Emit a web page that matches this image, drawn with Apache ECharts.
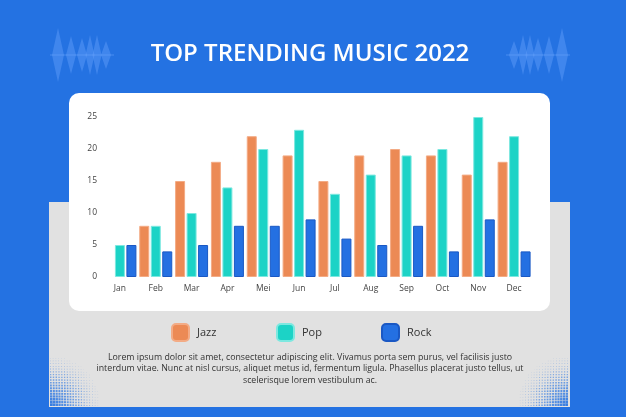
<!DOCTYPE html>
<html>
<head>
<meta charset="utf-8">
<title>Top Trending Music 2022</title>
<script src="https://cdn.jsdelivr.net/npm/echarts@6/dist/echarts.min.js"></script>
<style>
  body { margin: 0; background: #2472e2; }
  #main { width: 626px; height: 417px; }
</style>
</head>
<body>
<div id="main"></div>
<script>
// data
var months = ['Jan', 'Feb', 'Mar', 'Apr', 'Mei', 'Jun', 'Jul', 'Aug', 'Sep', 'Oct', 'Nov', 'Dec'];
var jazz = [0, 8, 15, 18, 22, 19, 15, 19, 20, 19, 16, 18];
var pop = [5, 8, 10, 14, 20, 23, 13, 16, 19, 20, 25, 22];
var rock = [5, 4, 5, 8, 8, 9, 6, 5, 8, 4, 9, 4];
var yTicks = [0, 5, 10, 15, 20, 25];

var blue = '#2472e2';
var font = 'Open Sans';
var lorem = [
  'Lorem ipsum dolor sit amet, consectetur adipiscing elit. Vivamus porta sem purus, vel facilisis justo',
  'interdum vitae. Nunc at nisl cursus, aliquet metus id, fermentum ligula. Phasellus placerat justo tellus, ut',
  'scelerisque lorem vestibulum ac.'
];

var myChart = echarts.init(document.getElementById('main'));

// decoration: waveform diamonds
function wave(mirror) {
  var peaks = [[58, 27, 6], [71, 19, 5], [82, 17, 5], [90, 20, 4.5], [97, 20, 4.5], [106, 14, 5]];
  var cy = 55, out = [];
  peaks.forEach(function (p) {
    var cx = mirror ? 620 - p[0] : p[0];
    out.push({
      type: 'polygon', z: -1, silent: true,
      shape: { points: [[cx - p[2], cy], [cx, cy - p[1]], [cx + p[2], cy], [cx, cy + p[1]]] },
      style: { fill: 'rgba(100,160,250,0.45)' }
    });
  });
  var x0 = mirror ? 620 - 114 : 50;
  out.push({ type: 'rect', z: -1, silent: true, shape: { x: x0, y: cy - 0.5, width: 64, height: 1 },
    style: { fill: 'rgba(110,170,255,0.5)' } });
  return out;
}

// decoration: halftone dots in bottom corners of the gray panel
function dots(right) {
  var out = [];
  for (var i = 0; i < 18; i++) {
    for (var j = 0; j < 18; j++) {
      var dx = i * 2.8, dy = j * 2.8;
      var d = Math.sqrt(Math.pow(dx / 50, 2) + Math.pow(dy / 50, 2));
      if (d >= 1) continue;
      var s = 2.3 * (1 - d) + 0.4;
      var x = right ? 568 - dx - s : 50 + dx;
      out.push({ type: 'rect', z: -1, silent: true,
        shape: { x: x, y: 406 - dy - s, width: s, height: s },
        style: { fill: 'rgba(36,114,226,' + (0.3 + 0.6 * (1 - d)) + ')' } });
    }
  }
  return out;
}

var graphics = [
  { type: 'rect', z: -3, silent: true, shape: { x: 49, y: 202, width: 521, height: 205 },
    style: { fill: '#e1e1e1' } },
  { type: 'rect', z: -2, silent: true, shape: { x: 69, y: 93, width: 481, height: 218, r: 10 },
    style: { fill: '#ffffff' } },
  { type: 'text', z: 3, x: 310, y: 54, style: {
      text: 'TOP TRENDING MUSIC 2022', fill: '#ffffff', font: '600 24px "' + font + '"',
      textAlign: 'center', textVerticalAlign: 'middle' } }
];
lorem.forEach(function (line, i) {
  graphics.push({ type: 'text', z: 3, x: 310, y: 357 + i * 11.6, style: {
    text: line, fill: '#333333', font: '8.8px "' + font + '"',
    textAlign: 'center', textVerticalAlign: 'middle' } });
});
graphics = graphics.concat(wave(false), wave(true), dots(false), dots(true));

function legendAt(name, left) {
  return {
    data: [name], left: left, top: 323, itemWidth: 17, itemHeight: 17,
    icon: 'path://M4,0 H13 A4,4 0 0 1 17,4 V13 A4,4 0 0 1 13,17 H4 A4,4 0 0 1 0,13 V4 A4,4 0 0 1 4,0 Z',
    itemGap: 0, padding: 0,
    textStyle: { color: '#333', fontSize: 11, fontFamily: font, padding: [0, 0, 0, 3] }
  };
}

function barSeries(name, data, color, edge) {
  return {
    name: name, type: 'bar', barWidth: 10, barGap: '15%',
    // a zero bar draws nothing in the picture, so drop its outline
    data: data.map(function (v) {
      return v === 0 ? { value: v, itemStyle: { borderWidth: 0 } } : v;
    }),
    itemStyle: { color: color, borderColor: edge, borderWidth: 1 }
  };
}

myChart.setOption({
  backgroundColor: blue,
  animation: false,
  graphic: graphics,
  legend: [legendAt('Jazz', 171), legendAt('Pop', 276), legendAt('Rock', 381)],
  grid: { left: 102, right: 94, top: 117, bottom: 140 },
  xAxis: {
    type: 'category', data: months, z: 5,
    axisLine: { show: false }, axisTick: { show: false },
    axisLabel: { color: '#444', fontSize: 8.5, fontFamily: font, margin: 7 }
  },
  yAxis: {
    type: 'value', min: yTicks[0], max: yTicks[yTicks.length - 1], interval: 5, z: 5,
    splitLine: { show: false }, axisLine: { show: false }, axisTick: { show: false },
    axisLabel: { color: '#444', fontSize: 8.5, fontFamily: font, margin: 5 }
  },
  series: [
    barSeries('Jazz', jazz, '#ec8a55', '#f3ab85'),
    barSeries('Pop', pop, '#1cd3c6', '#7de8e0'),
    barSeries('Rock', rock, '#2470e2', '#1a58c4')
  ]
});
</script>
</body>
</html>
